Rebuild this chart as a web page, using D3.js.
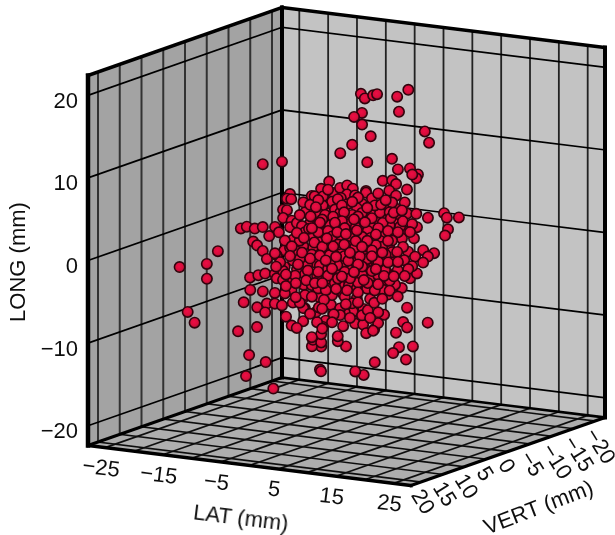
<!DOCTYPE html>
<html>
<head>
<meta charset="utf-8">
<script src="https://cdn.jsdelivr.net/npm/d3@7"></script>
<style>
  body { margin: 0; background: #fff; }
  text { font-family: "Liberation Sans", Arial, sans-serif; font-size: 22px; fill: #111; }
</style>
</head>
<body>
<div id="chart"></div>
<script>
// Tick values
const latTicks = [-25, -20, -15, -10, -5, 0, 5, 10, 15, 20, 25];
const latLabels = [-25, -15, -5, 5, 15, 25];
const vertTicks = [-20, -15, -10, -5, 0, 5, 10, 15, 20];
const longTicks = [-20, -10, 0, 10, 20];

// Points. Depth along VERT can't be read from a single view,
// so vert is a rough guess and lat/long are set so each point lands where it is drawn.
const lat = [
  2.5,6.2,1.6,5.3,11.8,7.7,9.1,5.7,-1.7,
  2.7,16.6,11.3,4.2,4.0,-4.1,3.6,10.9,5.9,
  11.0,15.4,9.1,11.4,9.3,4.9,8.6,13.5,4.4,
  -3.0,6.4,13.9,17.4,22.5,11.1,17.6,20.1,9.2,
  13.3,18.2,11.1,10.5,17.1,6.8,10.5,11.6,8.5,
  9.1,11.1,7.3,4.9,6.0,-1.5,-4.6,-1.4,-3.1,
  -1.5,1.5,-7.4,-6.0,-2.8,-7.4,-4.4,-0.6,-7.1,
  -5.1,-4.5,-3.6,1.5,5.9,0.4,4.8,8.5,3.5,
  5.5,5.3,-1.9,-0.3,1.5,-8.3,-2.7,-4.2,4.2,
  8.4,12.6,8.0,12.2,-11.5,-14.2,-9.8,-7.3,-12.6,
  -11.0,-7.3,-14.0,-9.5,-15.3,-20.3,-15.9,-11.5,-15.4,
  -13.4,-8.7,-12.8,-8.6,-6.3,-19.2,-15.5,-11.5,-13.8,
  -13.8,-9.1,-12.3,-22.3,-21.2,-22.9,-24.2,-13.7,-18.3,
  -14.1,-9.4,-19.7,-14.5,-9.4,-15.1,-11.0,-6.5,-13.7,
  -9.3,-14.8,-18.5,-13.8,-9.4,-14.2,-14.1,-21.5,-20.3,
  -18.8,-12.5,-13.5,-9.5,-5.6,-19.9,-14.0,-14.4,-15.7,
  -4.4,-3.0,-10.5,-7.2,-2.5,-7.1,-2.2,1.9,-2.9,
  1.1,6.4,1.4,2.7,3.1,-4.0,-2.5,-1.1,-7.9,
  -6.3,-4.7,-5.9,-2.0,3.1,-1.2,4.6,9.5,5.4,
  10.1,11.6,4.9,6.8,11.6,7.5,12.1,13.3,5.2,
  5.3,6.6,-1.2,-0.1,1.0,-6.6,-5.1,-4.2,-7.6,
  -2.0,2.0,-2.0,1.1,6.2,1.4,6.7,10.4,6.6,
  11.7,8.3,-0.1,0.3,1.0,-6.7,-5.8,-4.5,-11.8,
  -12.4,13.7,7.0,8.1,9.2,1.1,2.0,1.7,-6.4,
  -5.5,-7.7,-11.6,-6.8,-1.6,-5.0,0.3,5.3,2.1,
  7.0,11.9,5.4,6.3,7.1,-1.5,-0.4,0.7,-6.7,
  -5.1,-4.2,-12.3,-7.4,-3.0,-7.8,-2.7,1.9,-2.6,
  1.8,6.6,3.3,4.1,4.8,-3.6,-4.8,-4.5,-10.5,
  -1.1,4.0,-0.1,2.7,1.9,1.6,-4.2,-3.0,-5.9,
  -0.8,3.6,-0.3,4.4,8.8,4.9,2.3,2.7,-5.9,
  -6.0,-5.1,-12.8,-8.1,-3.0,-6.7,-1.5,4.0,0.2,
  4.9,9.7,-4.1,-3.2,4.0,0.2,5.5,10.5,-3.3,
  -2.5,-1.9,-10.2,-8.9,-8.0,-1.5,3.2,-1.2,-4.1,
  1.0,5.7,2.8,7.5,12.3,1.1,-6.3,-0.7,-7.9,
  -8.1,4.5,1.9,-0.3,1.0,-1.0,4.9,3.6,-4.1,
  3.7,10.5,-1.0,0.3,1.0,
  // inside of the dense cluster, placed by eye
  -1.5,2.0,-3.2,5.5,-5.3,-0.8,1.0,3.6,6.0,8.9,
  -3.2,-1.2,0.7,2.6,5.0,7.4,9.3,10.7,12.8,14.4,
  -8.6,-6.5,-4.9,-3.2,-1.5,0.3,2.3,3.7,5.5,7.2,
  5.9,8.0,-13.7,-12.5,-10.4,-8.6,-7.2,-5.5,-3.8,-2.0,
  2.7,4.2,6.2,7.9,9.8,11.9,-11.5,-9.8,-7.7,-6.3,
  -1.6,0.1,2.2,4.5,6.4,8.1,9.8,11.8,14.4,16.3,
  -12.2,-10.5,-8.4,-6.7,-4.9,-3.2,-1.6,-0.3,1.6,3.6,
  2.5,4.2,5.9,7.7,-11.8,-10.0,-8.5,-6.6,-4.5,-2.4,
  2.7,4.4,6.5,8.2,10.1,-8.1,-6.0,-3.9,-1.8,0.1,
  5.0,6.7,8.5,10.5,11.9,-3.3,-1.2,0.8,2.9,5.0,
  3.7,4.8,6.2,4.1,0.6,-2.5,-8.8,-10.5,-0.8,0.6,
  -1.4,-3.4,-4.5,-0.7,-2.7,-5.9,1.4,3.2,-7.2,-0.3,
  -2.0,-0.3,1.3,3.2,-3.4,-1.6,-0.1,1.8,3.6,5.1,
  -2.3,-0.4,1.6,2.7,4.4,-3.6,-1.8,0.6,2.0,5.1,
  -2.5,-0.8,1.3,3.0,-4.6,-6.0,7.2,8.2,9.6,6.8
];
const long = [
  18.7,19.2,17.7,18.9,19.9,18.9,17.1,17.4,14.8,
  15.0,16.1,12.8,13.7,13.4,10.2,10.5,12.3,9.1,
  10.4,10.8,8.3,9.7,9.5,7.7,8.3,8.8,6.4,
  7.6,8.0,4.5,5.0,6.2,3.7,3.6,3.8,2.4,
  0.7,1.5,-1.0,-6.5,-7.0,-9.3,-8.9,-8.7,-12.1,
  -11.4,-11.2,-13.8,-13.6,-14.3,-16.0,-15.3,-14.5,-13.1,
  -11.6,-10.0,-13.5,-12.6,-10.8,-13.0,-11.0,-8.3,-11.1,
  -9.6,-8.7,-10.7,-9.2,-8.2,-11.2,-9.6,-7.8,-8.7,
  -7.5,-6.8,-8.8,-8.0,-6.8,-9.4,-7.3,-7.1,-6.2,
  -4.0,-3.2,-3.9,-2.2,9.7,8.3,5.5,5.9,3.9,
  3.5,4.5,1.5,2.3,1.6,-0.1,0.8,2.1,0.3,
  0.1,1.7,0.5,2.1,1.0,-1.8,-1.2,-0.8,-2.4,
  -2.7,-1.1,-3.5,-2.5,-3.2,-3.0,-6.0,-4.2,-5.8,
  -4.5,-3.4,-7.7,-6.7,-5.7,-5.9,-5.0,-5.1,-7.6,
  -7.6,-7.3,-9.7,-8.1,-7.0,-9.1,-9.2,-8.3,-9.5,
  -11.9,-10.1,-10.4,-10.4,-9.6,-15.6,-15.2,-16.2,-19.3,
  6.6,6.6,3.7,3.5,6.6,4.7,6.3,8.0,6.4,
  7.1,7.8,5.2,5.4,7.3,4.8,5.2,5.6,2.6,
  2.3,2.8,2.8,4.3,6.1,3.8,4.5,6.6,4.4,
  6.2,7.9,5.0,4.0,4.6,3.9,5.0,3.7,1.3,
  3.4,4.8,2.2,3.5,3.9,1.5,2.1,2.1,-0.6,
  1.7,1.7,0.8,0.5,2.6,-0.2,2.2,1.7,0.8,
  2.0,1.0,-1.2,-0.5,0.6,-2.0,-0.6,0.4,-2.3,
  -1.9,1.3,-1.8,-1.0,-0.2,-2.5,-1.5,-0.8,-2.9,
  -2.4,-2.4,-4.5,-2.7,-1.7,-4.3,-2.5,-2.1,-3.1,
  -2.5,-1.1,-4.9,-3.7,-2.4,-4.7,-3.9,-3.0,-5.8,
  -4.0,-3.0,-5.9,-5.3,-4.2,-7.5,-5.3,-3.8,-5.7,
  -4.9,-3.8,-5.7,-6.0,-5.1,-6.8,-7.8,-5.9,-9.1,
  -7.6,-5.8,-8.3,-8.1,-7.4,-10.8,-10.3,-10.5,1.3,
  2.3,4.0,1.4,2.1,2.2,-1.0,0.9,1.7,-0.5,
  0.8,1.0,-2.0,-2.2,-0.5,-1.2,-0.8,0,-1.4,
  -1.1,-1.3,-4.0,-3.0,-1.6,-3.4,-3.0,-2.5,-7.1,
  -6.1,-4.5,-7.5,-4.3,-2.9,0.8,0.4,2.3,3.0,
  3.9,5.3,3.6,4.8,4.2,1.9,4.5,4.5,4.2,
  3.1,7.3,4.4,-1.9,-3.6,-5.2,-4.9,1.2,0.6,
  -1.2,4.2,-1.0,1.7,-0.7,
  // inside of the dense cluster, placed by eye
  5.6,6.1,6.6,6.9,4.3,4.9,5.5,5.0,5.6,4.7,
  4.1,3.9,4.4,5.1,4.8,4.8,4.4,5.1,4.9,4.7,
  0.9,1.6,1.3,1.6,2.4,2.7,2.9,2.2,2.7,2.5,
  1.5,1.7,-1.2,-1.8,-0.6,-1.0,-1.4,0,-0.1,-0.2,
  1.4,1.4,0.5,1.4,0.8,-0.2,-2.9,-2.0,-1.4,-2.0,
  -0.5,-0.3,0.7,1.0,1.3,1.6,0.6,1.1,-0.4,0.2,
  -3.5,-4.3,-2.9,-3.5,-3.5,-3.8,-2.4,-3.1,-1.8,-1.2,
  -2.4,-2.3,-2.1,-2.8,-6.2,-5.7,-5.9,-6.6,-5.0,-4.8,
  -3.2,-2.6,-3.0,-2.9,-2.7,-7.5,-6.6,-6.8,-5.3,-5.3,
  -4.4,-3.1,-3.1,-3.7,-4.3,-7.7,-6.9,-7.4,-6.0,-5.6,
  -7.4,-6.4,-5.8,-8.3,-8.6,-9.4,-6.9,-5.7,3.0,1.3,
  1.5,-2.2,-0.9,-2.0,-2.7,-3.2,-1.1,-1.2,-5.8,-3.2,
  2.7,2.2,3.4,3.2,0.7,1.6,1.5,2.1,1.0,1.9,
  -0.2,0.2,0.8,0.2,-0.8,-2.0,-1.4,-0.7,-2.0,-2.3,
  -2.9,-3.7,-3.0,-3.8,2.5,1.7,1.3,4.8,5.2,6.2
];
const vert = [
  0,4,-4,0,4,-4,0,4,-4,
  0,4,-4,0,4,-4,0,4,-4,
  0,4,-4,0,4,-4,0,4,-4,
  0,4,-4,0,4,-4,0,4,-4,
  0,4,-4,0,4,-4,0,4,-4,
  0,4,-4,0,4,-4,0,4,-4,
  0,4,-4,0,4,-4,0,4,-4,
  0,4,-4,0,4,-4,0,4,-4,
  0,4,-4,0,4,-4,0,4,-4,
  0,4,-4,0,4,-4,0,4,-4,
  0,4,-4,0,4,-4,0,4,-4,
  0,4,-4,0,4,-4,0,4,-4,
  0,4,-4,0,4,8,0,4,-4,
  0,4,-4,0,4,-4,0,4,-4,
  0,4,-4,0,4,-4,0,8,8,
  0,4,-4,0,4,-4,0,4,-4,
  0,4,-4,0,4,-4,0,4,-4,
  0,4,-4,0,4,-4,0,4,-4,
  0,4,-4,0,4,-4,0,4,-4,
  0,4,-4,0,4,-4,0,4,-4,
  0,4,-4,0,4,-4,0,4,-4,
  0,4,-4,0,4,-4,0,4,-4,
  0,4,-4,0,4,-4,0,4,-4,
  0,4,-4,0,4,-4,0,4,-4,
  0,4,-4,0,4,-4,0,4,-4,
  0,4,-4,0,4,-4,0,4,-4,
  0,4,-4,0,4,-4,0,4,-4,
  0,4,-4,0,4,-4,0,4,-4,
  0,4,-4,0,4,-4,0,4,-4,
  0,4,-4,0,4,-4,0,4,-4,
  0,4,-4,0,4,-4,0,4,-4,
  0,4,-4,0,4,-4,0,4,-4,
  0,4,-4,0,4,-4,0,4,-4,
  0,4,-4,0,4,-4,0,4,-4,
  0,4,-4,0,4,-4,0,4,-4,
  0,4,-4,0,4,
  // inside of the dense cluster, placed by eye
  0,0,0,0,0,0,0,0,0,0,
  4,4,4,4,4,4,4,4,4,4,
  0,0,0,0,0,0,0,0,0,0,
  -4,-4,-4,-4,-4,-4,-4,-4,-4,-4,
  0,0,0,0,0,0,0,0,0,0,
  4,4,4,4,4,4,4,4,4,4,
  0,0,0,0,0,0,0,0,0,0,
  -4,-4,-4,-4,-4,-4,-4,-4,-4,-4,
  0,0,0,0,0,0,0,0,0,0,
  4,4,4,4,4,4,4,4,4,4,
  0,0,0,0,0,0,0,0,0,0,
  -4,-4,-4,-4,-4,-4,-4,-4,-4,-4,
  0,0,0,0,0,0,0,0,0,0,
  0,0,0,0,0,0,0,0,0,0,
  0,0,0,0,0,0,0,0,0,0
];

// Box limits
const latMax = 28, vertMax = 22.3, longMax = 22.4;

// Parallel projection: one screen scale per data axis, measured from the back corner
const latX = d3.scaleLinear().domain([-latMax, latMax]).range([0, 323]);
const latY = d3.scaleLinear().domain([-latMax, latMax]).range([0, 40]);
const vertX = d3.scaleLinear().domain([-vertMax, vertMax]).range([0, -194]);
const vertY = d3.scaleLinear().domain([-vertMax, vertMax]).range([0, 68]);
const longY = d3.scaleLinear().domain([-longMax, longMax]).range([0, -370]);
const origin = [282, 377.5];

function project(la, ve, lo) {
    return [
        origin[0] + latX(la) + vertX(ve),
        origin[1] + latY(la) + vertY(ve) + longY(lo)
    ];
}

const root = d3.select("#chart").append("svg")
    .attr("width", 615)
    .attr("height", 535);

const defs = root.append("defs");
const ball = defs.append("radialGradient")
    .attr("id", "ball")
    .attr("cx", "45%").attr("cy", "42%").attr("r", "58%");
ball.append("stop").attr("offset", "0%").attr("stop-color", "#ee0c46");
ball.append("stop").attr("offset", "65%").attr("stop-color", "#d60a3a");
ball.append("stop").attr("offset", "100%").attr("stop-color", "#860a28");

// The reference is a slightly soft scan
defs.append("filter")
    .attr("id", "soft")
    .attr("x", "0").attr("y", "0").attr("width", "100%").attr("height", "100%")
    .append("feGaussianBlur")
    .attr("stdDeviation", 0.6);

const svg = root.append("g").attr("filter", "url(#soft)");
svg.append("rect").attr("width", 615).attr("height", 535).attr("fill", "#fff");

const poly = d3.line();

function face(corners, fill) {
    svg.append("path")
        .attr("d", poly(corners.map(c => project(...c))) + "Z")
        .attr("fill", fill);
}

function segment(a, b, color, w) {
    const p = project(...a), q = project(...b);
    svg.append("line")
        .attr("x1", p[0]).attr("y1", p[1])
        .attr("x2", q[0]).attr("y2", q[1])
        .attr("stroke", color)
        .attr("stroke-width", w)
        .attr("stroke-linecap", "square");
}

// Walls and floor
face([[-latMax, vertMax, -longMax], [-latMax, -vertMax, -longMax], [-latMax, -vertMax, longMax], [-latMax, vertMax, longMax]], "#a3a3a3");
face([[-latMax, -vertMax, -longMax], [latMax, -vertMax, -longMax], [latMax, -vertMax, longMax], [-latMax, -vertMax, longMax]], "#c3c3c3");
face([[-latMax, vertMax, -longMax], [-latMax, -vertMax, -longMax], [latMax, -vertMax, -longMax], [latMax, vertMax, -longMax]], "#aeaeae");

// Grid lines
vertTicks.forEach(v => {
    segment([-latMax, v, -longMax], [-latMax, v, longMax], "#333", 2);
    segment([-latMax, v, -longMax], [latMax, v, -longMax], "#111", 1.7);
});
latTicks.forEach(l => {
    segment([l, -vertMax, -longMax], [l, -vertMax, longMax], "#222", 1.8);
    segment([l, -vertMax, -longMax], [l, vertMax, -longMax], "#111", 1.7);
});
longTicks.forEach(l => {
    segment([-latMax, vertMax, l], [-latMax, -vertMax, l], "#000", 1.7);
    segment([-latMax, -vertMax, l], [latMax, -vertMax, l], "#000", 1.7);
});

// Box outline
segment([-latMax, vertMax, -longMax], [-latMax, vertMax, longMax], "#000", 4.5);
segment([-latMax, -vertMax, -longMax], [-latMax, -vertMax, longMax], "#000", 4);
segment([latMax, -vertMax, -longMax], [latMax, -vertMax, longMax], "#000", 4);
segment([-latMax, vertMax, longMax], [-latMax, -vertMax, longMax], "#000", 3.5);
segment([-latMax, -vertMax, longMax], [latMax, -vertMax, longMax], "#000", 3.5);
segment([-latMax, vertMax, -longMax], [-latMax, -vertMax, -longMax], "#000", 3);
segment([-latMax, -vertMax, -longMax], [latMax, -vertMax, -longMax], "#000", 2.6);
segment([-latMax, vertMax, -longMax], [latMax, vertMax, -longMax], "#000", 3.4);
segment([latMax, vertMax, -longMax], [latMax, -vertMax, -longMax], "#000", 3.2);

// Points
svg.selectAll(".dot")
    .data(d3.range(lat.length))
    .enter().append("circle")
    .attr("class", "dot")
    .attr("cx", i => project(lat[i], vert[i], long[i])[0])
    .attr("cy", i => project(lat[i], vert[i], long[i])[1])
    .attr("r", 5.2)
    .attr("fill", "url(#ball)")
    .attr("stroke", "#32060f")
    .attr("stroke-width", 1.6);

const fmt = v => String(v).replace("-", "\u2212");

// LONG tick labels, on the left edge of the box
svg.selectAll(".long-label")
    .data(longTicks)
    .enter().append("text")
    .attr("class", "long-label")
    .attr("x", 78)
    .attr("y", d => project(-latMax, vertMax, d)[1] + 12.5)
    .attr("text-anchor", "end")
    .text(fmt);

// LAT tick labels, along the front edge
svg.selectAll(".lat-label")
    .data(latLabels)
    .enter().append("text")
    .attr("class", "lat-label")
    .attr("text-anchor", "middle")
    .attr("transform", d => {
        const p = project(d, vertMax, -longMax);
        return `translate(${p[0] - 5},${p[1] + 27}) rotate(7)`;
    })
    .text(fmt);

// VERT tick labels, along the right edge
svg.selectAll(".vert-label")
    .data(vertTicks)
    .enter().append("text")
    .attr("class", "vert-label")
    .attr("dy", "0.35em")
    .attr("transform", d => {
        const p = project(latMax, d, -longMax);
        return `translate(${p[0] - 4},${p[1] + 9}) rotate(58)`;
    })
    .text(fmt);

// Axis titles
svg.append("text")
    .attr("text-anchor", "middle")
    .attr("transform", "translate(25,262) rotate(-90)")
    .text("LONG (mm)");
svg.append("text")
    .attr("text-anchor", "middle")
    .attr("transform", "translate(240,525) rotate(7)")
    .text("LAT (mm)");
svg.append("text")
    .attr("text-anchor", "middle")
    .attr("transform", "translate(541,514) rotate(-21)")
    .text("VERT (mm)");
</script>
</body>
</html>
